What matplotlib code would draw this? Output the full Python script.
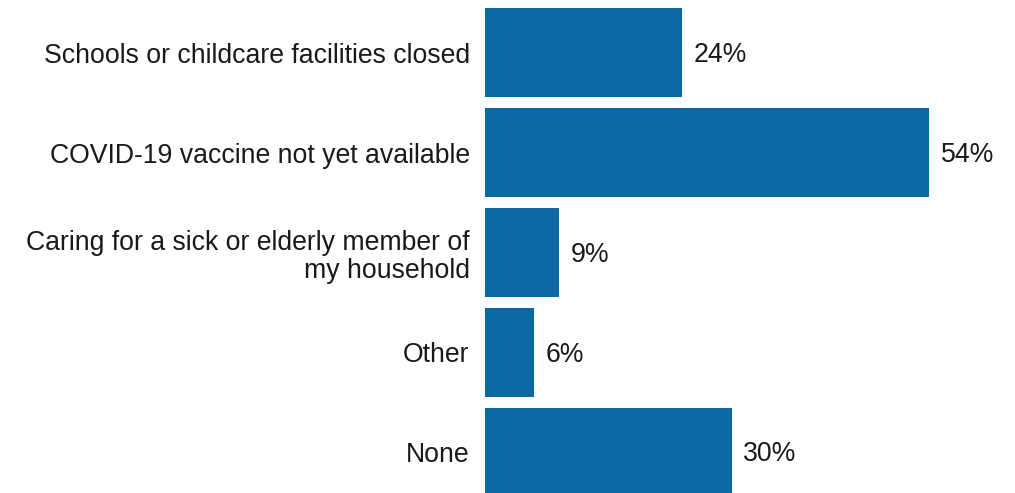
import matplotlib.pyplot as plt

labels = [
    "Schools or childcare facilities closed",
    "COVID-19 vaccine not yet available",
    "Caring for a sick or elderly member of\nmy household",
    "Other",
    "None",
]
values = [24, 54, 9, 6, 30]

bar_color = "#0B69A4"

fig = plt.figure(figsize=(10.15, 4.93), dpi=100)
ax = fig.add_axes([485 / 1015, 0, 1 - 485 / 1015, 1])

pos = list(range(len(labels)))
ax.barh(pos, values, height=0.89, color=bar_color)

ax.set_xlim(0, 530 / (444 / 54))
ax.set_ylim(4.405, -0.525)

for y, v in zip(pos, values):
    ax.text(v + 1.4, y + 0.02, f"{v}%", va="center", ha="left",
            fontsize=19.2, family="Liberation Sans", color="#1a1a1a")

ax.set_yticks(pos)
ax.set_yticklabels(labels, fontsize=19.2, family="Liberation Sans",
                   color="#1a1a1a", linespacing=1.1)
for t in ax.get_yticklabels():
    t.set_y(t.get_position()[1])
ax.tick_params(axis="y", length=0, pad=11)
ax.set_xticks([])
for s in ax.spines.values():
    s.set_visible(False)

fig.savefig("out.png", dpi=100)
